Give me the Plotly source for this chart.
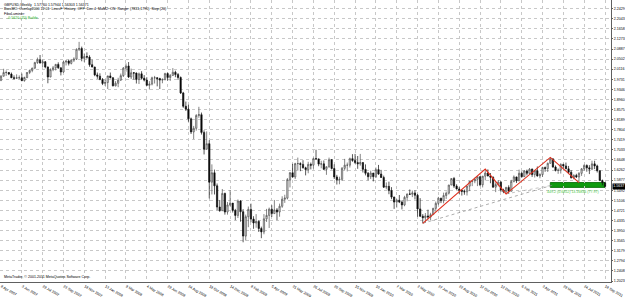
import pandas as pd
import plotly.graph_objects as go

start_week = "2007-04-08"

opens = [1.9690,1.9850,1.9990,1.9990,1.9930,1.9790,1.9770,1.9790,1.9790,1.9680,
1.9800,1.9990,2.0070,2.0160,2.0370,2.0480,2.0350,2.0400,2.0200,1.9820,
2.0100,2.0170,2.0300,2.0170,2.0010,2.0390,2.0430,2.0340,2.0460,2.0500,
2.0880,2.0910,2.0530,2.0600,2.0580,2.0290,2.0200,1.9900,1.9850,1.9720,
1.9570,1.9610,1.9860,1.9790,1.9480,1.9580,1.9700,1.9870,2.0160,2.0240,
1.9820,1.9980,1.9970,1.9720,1.9940,1.9770,1.9700,1.9500,1.9550,1.9790,
1.9790,1.9760,1.9700,1.9720,1.9950,1.9800,1.9880,2.0000,1.9910,1.9800,
1.9210,1.8700,1.8590,1.8220,1.7720,1.7860,1.8350,1.8380,1.7700,1.7060,
1.7270,1.5800,1.6160,1.5660,1.4850,1.4710,1.5370,1.4660,1.4930,1.5000,
1.4720,1.4530,1.5080,1.4670,1.3740,1.4480,1.4760,1.4390,1.4240,1.4300,
1.4030,1.3900,1.4400,1.4530,1.4770,1.4600,1.4740,1.4660,1.4880,1.5150,
1.5190,1.5900,1.6160,1.6000,1.6510,1.6510,1.6480,1.6350,1.6280,1.6480,
1.6450,1.6700,1.6690,1.6490,1.6500,1.6290,1.6390,1.6660,1.6320,1.6000,
1.5890,1.5910,1.6330,1.6450,1.6450,1.6700,1.6630,1.6550,1.6500,1.6550,
1.6290,1.6140,1.6010,1.6150,1.6010,1.6280,1.6110,1.5980,1.5610,1.5640,
1.5480,1.5230,1.5040,1.5110,1.5040,1.4930,1.5220,1.5350,1.5340,1.5390,
1.5300,1.4780,1.4500,1.4440,1.4510,1.4470,1.4560,1.4800,1.4990,1.5190,
1.5090,1.5290,1.5380,1.5690,1.5940,1.5650,1.5540,1.5490,1.5450,1.5430,
1.5650,1.5830,1.5850,1.5910,1.6010,1.5700,1.6030,1.6150,1.6040,1.5990,
1.5610,1.5710,1.5800,1.5500,1.5440,1.5600,1.5450,1.5830,1.6000,1.5850,
1.6140,1.6010,1.6230,1.6140,1.6300,1.6090,1.6240,1.6040,1.6090,1.6360,
1.6320,1.6520,1.6690,1.6380,1.6250,1.6260,1.6480,1.6420,1.6310,1.6180,
1.5970,1.6060,1.6000,1.6140,1.6310,1.6440,1.6350,1.6300,1.6500,1.6420,
1.6240,1.5860,1.5776]

highs = [1.9890,2.0133,2.0070,2.0010,1.9990,1.9880,1.9920,1.9880,1.9950,1.9830,
2.0010,2.0100,2.0170,2.0400,2.0560,2.0660,2.0480,2.0430,2.0220,2.0150,
2.0240,2.0320,2.0380,2.0180,2.0430,2.0450,2.0480,2.0500,2.0570,2.0910,
2.1161,2.0980,2.0720,2.0760,2.0650,2.0480,2.0210,1.9990,1.9960,1.9780,
1.9720,1.9820,1.9990,1.9810,1.9660,1.9790,1.9950,2.0200,2.0340,2.0390,
2.0140,2.0000,1.9990,1.9990,2.0040,1.9890,1.9810,1.9660,1.9830,1.9860,
1.9810,1.9790,1.9770,1.9980,1.9990,1.9930,2.0160,2.0060,1.9970,1.9840,
1.9250,1.8880,1.8760,1.8270,1.7950,1.8400,1.8680,1.8460,1.7780,1.7740,
1.7400,1.6480,1.6280,1.5750,1.5120,1.5540,1.5400,1.5040,1.5500,1.5000,
1.4780,1.5140,1.5110,1.4770,1.4560,1.4870,1.4980,1.4500,1.4580,1.4340,
1.4100,1.4580,1.4780,1.4830,1.4920,1.5120,1.4810,1.4980,1.5260,1.5320,
1.5960,1.6190,1.6500,1.6540,1.6740,1.6560,1.6640,1.6390,1.6580,1.6550,
1.6740,1.7040,1.6700,1.6620,1.6630,1.6400,1.6740,1.6680,1.6480,1.6080,
1.6010,1.6380,1.6690,1.6550,1.6740,1.6870,1.6880,1.6800,1.6880,1.6540,
1.6480,1.6190,1.6240,1.6150,1.6360,1.6460,1.6270,1.6050,1.5790,1.5820,
1.5610,1.5250,1.5160,1.5310,1.5100,1.5280,1.5360,1.5520,1.5480,1.5490,
1.5350,1.5190,1.4580,1.4620,1.4750,1.4630,1.4820,1.5060,1.5240,1.5200,
1.5400,1.5440,1.5700,1.5950,1.6000,1.5720,1.5620,1.5510,1.5520,1.5660,
1.5850,1.5860,1.5970,1.6010,1.6020,1.6020,1.6300,1.6290,1.6150,1.6020,
1.5790,1.5880,1.5840,1.5550,1.5620,1.5680,1.5890,1.6060,1.6010,1.6280,
1.6210,1.6250,1.6280,1.6340,1.6320,1.6250,1.6400,1.6140,1.6390,1.6400,
1.6550,1.6750,1.6720,1.6440,1.6330,1.6520,1.6500,1.6550,1.6420,1.6260,
1.6100,1.6120,1.6180,1.6340,1.6480,1.6480,1.6450,1.6620,1.6620,1.6470,
1.6240,1.5900,1.5794]

lows = [1.9660,1.9840,1.9860,1.9890,1.9780,1.9720,1.9740,1.9730,1.9660,1.9640,
1.9770,1.9930,2.0000,2.0120,2.0320,2.0340,2.0210,2.0150,1.9580,1.9810,
2.0040,2.0070,2.0130,1.9880,1.9980,2.0260,2.0260,2.0300,2.0390,2.0470,
2.0810,2.0420,2.0390,2.0520,2.0210,2.0190,1.9850,1.9750,1.9700,1.9510,
1.9480,1.9360,1.9770,1.9460,1.9460,1.9430,1.9670,1.9820,2.0020,1.9780,
1.9740,1.9720,1.9570,1.9550,1.9720,1.9650,1.9490,1.9340,1.9500,1.9570,
1.9460,1.9360,1.9580,1.9690,1.9680,1.9670,1.9860,1.9810,1.9710,1.9170,
1.8640,1.8520,1.8110,1.7640,1.7443,1.7770,1.8260,1.7620,1.6860,1.7050,
1.5180,1.5330,1.5330,1.4730,1.4670,1.4700,1.4560,1.4560,1.4880,1.4640,
1.4350,1.4430,1.4290,1.3503,1.3570,1.4080,1.4270,1.4020,1.4060,1.3900,
1.3660,1.3810,1.4280,1.4050,1.4470,1.4600,1.4350,1.4480,1.4820,1.5010,
1.5140,1.5600,1.5970,1.5920,1.6240,1.6220,1.6320,1.6060,1.6140,1.6290,
1.6320,1.6650,1.6410,1.6330,1.6260,1.6080,1.6350,1.6290,1.5920,1.5710,
1.5720,1.5850,1.6260,1.6210,1.6360,1.6580,1.6500,1.6310,1.6430,1.6170,
1.6060,1.5870,1.5920,1.5830,1.5960,1.6080,1.6000,1.5580,1.5530,1.5340,
1.5150,1.4780,1.4830,1.5000,1.4760,1.4880,1.5070,1.5320,1.5230,1.5140,
1.4480,1.4470,1.4230,1.4250,1.4380,1.4350,1.4560,1.4670,1.4920,1.5000,
1.4990,1.5160,1.5330,1.5700,1.5580,1.5520,1.5350,1.5290,1.5320,1.5290,
1.5460,1.5650,1.5760,1.5650,1.5650,1.5600,1.5870,1.6020,1.5760,1.5590,
1.5420,1.5640,1.5430,1.5380,1.5350,1.5350,1.5450,1.5790,1.5770,1.5840,
1.5970,1.6000,1.6060,1.6110,1.6000,1.5980,1.6010,1.5950,1.6000,1.6200,
1.6190,1.6510,1.6350,1.6210,1.6120,1.6130,1.6330,1.6300,1.6110,1.5940,
1.5910,1.5960,1.5780,1.6040,1.6240,1.6200,1.6110,1.6260,1.6300,1.6170,
1.5860,1.5680,1.5630]

closes = [1.9850,1.9990,1.9990,1.9930,1.9790,1.9770,1.9790,1.9790,1.9680,1.9800,
1.9990,2.0070,2.0160,2.0370,2.0480,2.0350,2.0400,2.0200,1.9820,2.0100,
2.0170,2.0300,2.0170,2.0010,2.0390,2.0430,2.0340,2.0460,2.0500,2.0880,
2.0910,2.0530,2.0600,2.0580,2.0290,2.0200,1.9900,1.9850,1.9720,1.9570,
1.9610,1.9860,1.9790,1.9480,1.9580,1.9700,1.9870,2.0160,2.0240,1.9820,
1.9980,1.9970,1.9720,1.9940,1.9770,1.9700,1.9500,1.9550,1.9790,1.9790,
1.9760,1.9700,1.9720,1.9950,1.9800,1.9880,2.0000,1.9910,1.9800,1.9210,
1.8700,1.8590,1.8220,1.7720,1.7860,1.8350,1.8380,1.7700,1.7060,1.7270,
1.5800,1.6160,1.5660,1.4850,1.4710,1.5370,1.4660,1.4930,1.5000,1.4720,
1.4530,1.5080,1.4670,1.3740,1.4480,1.4760,1.4390,1.4240,1.4300,1.4030,
1.3900,1.4400,1.4530,1.4770,1.4600,1.4740,1.4660,1.4880,1.5150,1.5190,
1.5900,1.6160,1.6000,1.6510,1.6510,1.6480,1.6350,1.6280,1.6480,1.6450,
1.6700,1.6690,1.6490,1.6500,1.6290,1.6390,1.6660,1.6320,1.6000,1.5890,
1.5910,1.6330,1.6450,1.6450,1.6700,1.6630,1.6550,1.6500,1.6550,1.6290,
1.6140,1.6010,1.6150,1.6010,1.6280,1.6110,1.5980,1.5610,1.5640,1.5480,
1.5230,1.5040,1.5110,1.5040,1.4930,1.5220,1.5350,1.5340,1.5390,1.5300,
1.4780,1.4500,1.4440,1.4510,1.4470,1.4560,1.4800,1.4990,1.5190,1.5090,
1.5290,1.5380,1.5690,1.5940,1.5650,1.5540,1.5490,1.5450,1.5430,1.5650,
1.5830,1.5850,1.5910,1.6010,1.5700,1.6030,1.6150,1.6040,1.5990,1.5610,
1.5710,1.5800,1.5500,1.5440,1.5600,1.5450,1.5830,1.6000,1.5850,1.6140,
1.6010,1.6230,1.6140,1.6300,1.6090,1.6240,1.6040,1.6090,1.6360,1.6320,
1.6520,1.6690,1.6380,1.6250,1.6260,1.6480,1.6420,1.6310,1.6180,1.5970,
1.6060,1.6000,1.6140,1.6310,1.6440,1.6350,1.6300,1.6500,1.6420,1.6240,
1.5860,1.5780,1.5637]

x_tick_labels = ["8 Apr 2007","3 Jun 2007","29 Jul 2007","23 Sep 2007","18 Nov 2007",
"13 Jan 2008","9 Mar 2008","4 May 2008","29 Jun 2008","24 Aug 2008","19 Oct 2008",
"14 Dec 2008","8 Feb 2009","5 Apr 2009","31 May 2009","26 Jul 2009","20 Sep 2009",
"15 Nov 2009","10 Jan 2010","7 Mar 2010","2 May 2010","27 Jun 2010","22 Aug 2010",
"17 Oct 2010","12 Dec 2010","6 Feb 2011","3 Apr 2011","29 May 2011","24 Jul 2011",
"18 Sep 2011"]

y_tick_values = [1.2023,1.2408,1.2794,1.3179,1.3565,1.3950,1.4335,1.4721,1.5106,1.5492,
1.5877,1.6262,1.6648,1.7033,1.7419,1.7804,1.8189,1.8575,1.8960,1.9346,
1.9731,2.0116,2.0502,2.0887,2.1273,2.1658,2.2043,2.2429]

zigzag_dates = ["2010-05-16","2010-10-31","2010-12-26","2011-04-24","2011-07-10"]
zigzag_prices = [1.4229,1.6298,1.5350,1.6747,1.5780]

trend1_dates = ["2010-05-16","2011-05-01"]
trend1_prices = [1.4229,1.5690]
trend2_dates = ["2010-12-26","2011-05-01"]
trend2_prices = [1.5350,1.5690]

zone_dates = ["2011-04-24","2011-09-18"]
zone_prices = [1.5600,1.5787]
last_price = 1.5637

header_lines = ["GBPUSD,Weekly  1.57760 1.57944 1.56303 1.56371",
"BarsMO: Overlay2000 12:01  LinesF  History: OFF  Dec:4  MaM2: ON  Range: (7831,1790)  Step:(20)",
"FiboLuminer:"]
header_green = "-0.5620 (Z0) Builde"
zone_text = "449.2 (0.6852) 13.16836 (77.97)"
footer_text = "MetaTrader, \u00a9 2001-2011 MetaQuotes Software Corp."

dates = pd.date_range(start_week, periods=len(closes), freq="7D")
tickvals = pd.to_datetime(x_tick_labels, format="%d %b %Y")

FONT = "Liberation Sans"
fs = 3.6

fig = go.Figure()
fig.add_trace(go.Candlestick(
    x=dates, open=opens, high=highs, low=lows, close=closes,
    increasing=dict(line=dict(color="#505050", width=0.7), fillcolor="#e6e6e6"),
    decreasing=dict(line=dict(color="#111111", width=0.7), fillcolor="#000000"),
    whiskerwidth=0, showlegend=False, hoverinfo="skip"))

fig.add_trace(go.Scatter(x=pd.to_datetime(trend1_dates), y=trend1_prices, mode="lines",
    line=dict(color="#8a8a8a", width=0.7, dash="dot"), showlegend=False, hoverinfo="skip"))
fig.add_trace(go.Scatter(x=pd.to_datetime(trend2_dates), y=trend2_prices, mode="lines",
    line=dict(color="#a0a0a0", width=0.6, dash="dot"), showlegend=False, hoverinfo="skip"))
fig.add_trace(go.Scatter(x=pd.to_datetime(zigzag_dates), y=zigzag_prices, mode="lines",
    line=dict(color="#e0301e", width=1.1), showlegend=False, hoverinfo="skip"))

zd = pd.to_datetime(zone_dates)
fig.add_shape(type="rect", x0=zd[0], x1=zd[1], y0=zone_prices[0], y1=zone_prices[1],
    xref="x", yref="y", fillcolor="#0f9a0f", line=dict(color="#006400", width=0.8),
    layer="below")

x0 = dates[0] - pd.Timedelta(days=7 * 0.383)
x1 = dates[0] + pd.Timedelta(days=7 * 234.3)

fig.update_layout(
    width=625, height=298,
    margin=dict(l=0, r=12, t=0, b=6, pad=0),
    paper_bgcolor="white", plot_bgcolor="white",
    font=dict(family=FONT, size=fs, color="black"),
    xaxis=dict(type="date", range=[x0, x1], rangeslider=dict(visible=False),
               tickvals=tickvals, ticktext=x_tick_labels,
               ticklabelposition="outside right", ticks="", ticklen=0,
               tickfont=dict(size=fs, family=FONT, color="black"),
               showgrid=True, gridcolor="#c8c8c8", gridwidth=0.6, griddash="dot",
               showline=True, linecolor="#606060", linewidth=1, zeroline=False,
               fixedrange=True),
    yaxis=dict(side="right", range=[1.1986, 2.2761], tickvals=y_tick_values,
               ticktext=[f"{v:.4f}" for v in y_tick_values],
               ticks="outside", ticklen=1, tickcolor="#606060",
               tickfont=dict(size=fs, family=FONT, color="black"),
               showgrid=True, gridcolor="#c8c8c8", gridwidth=0.6, griddash="dot",
               showline=True, linecolor="#606060", linewidth=1, zeroline=False,
               fixedrange=True),
)

for i, t in enumerate(header_lines):
    fig.add_annotation(text=t, xref="paper", yref="paper", x=0.003, y=1 - (0.6 + 4.7 * i) / 292,
                       xanchor="left", yanchor="top", showarrow=False,
                       font=dict(size=fs, family=FONT, color="black"))
fig.add_annotation(text=header_green, xref="paper", yref="paper", x=0.009, y=1 - (0.6 + 4.7 * 3) / 292,
                   xanchor="left", yanchor="top", showarrow=False,
                   font=dict(size=fs, family=FONT, color="#22b022"))
fig.add_annotation(text=footer_text, xref="paper", yref="paper", x=0.003, y=1 - 283 / 292,
                   xanchor="left", yanchor="top", showarrow=False,
                   font=dict(size=fs, family=FONT, color="black"))
fig.add_annotation(text=zone_text, x=zd[0] - pd.Timedelta(days=14), y=zone_prices[0],
                   xref="x", yref="y", xanchor="left", yanchor="top", yshift=-0.5, showarrow=False,
                   font=dict(size=fs, family=FONT, color="#3cc83c"))
fig.add_annotation(text=f"{last_price:.4f}", xref="paper", yref="y", x=1, y=last_price,
                   xanchor="left", yanchor="middle", xshift=1, showarrow=False,
                   bgcolor="#000000", borderpad=0.3,
                   font=dict(size=fs, family=FONT, color="white"))

fig.write_html("out.html")
